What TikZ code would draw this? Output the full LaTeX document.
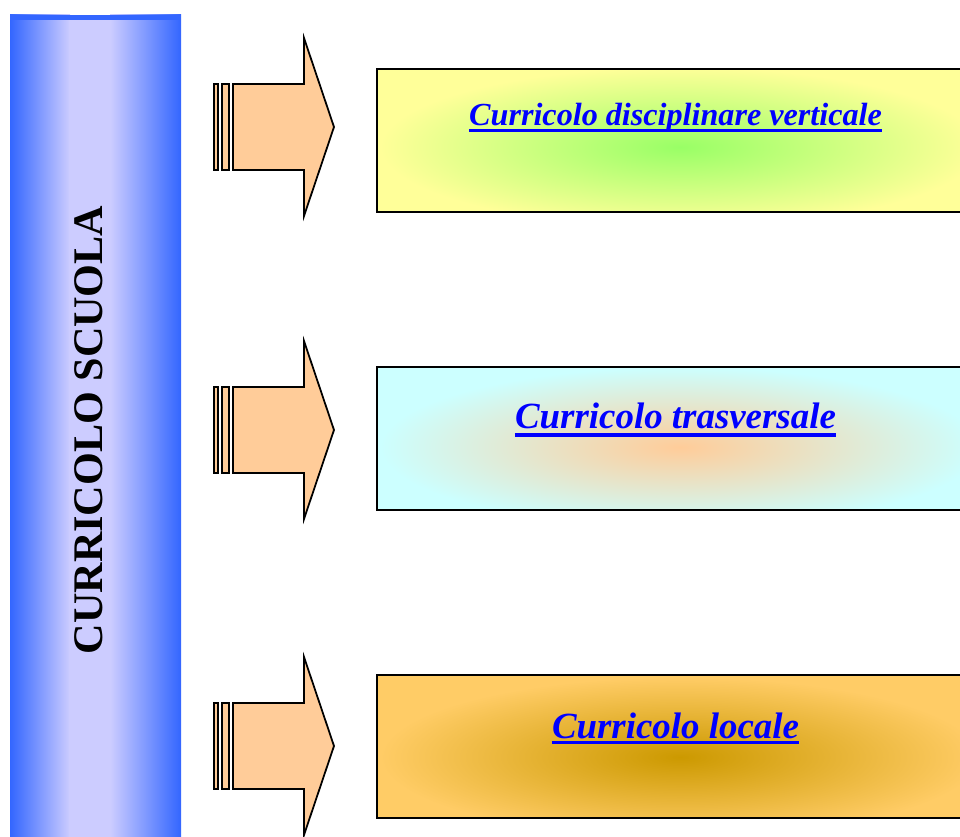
\documentclass[tikz,border=0pt]{standalone}
\usepackage{fontspec}
\setmainfont{Liberation Serif}
\usepackage{xcolor}
\usetikzlibrary{positioning,calc}

\definecolor{barblue}{HTML}{3366FF}
\definecolor{barlight}{HTML}{CCCCFF}
\definecolor{arrowfill}{HTML}{FFCC99}
\definecolor{vertout}{HTML}{FFFF99}
\definecolor{vertin}{HTML}{99FF66}
\definecolor{trasout}{HTML}{CCFFFF}
\definecolor{trasin}{HTML}{FFCC99}
\definecolor{locout}{HTML}{FFCC66}
\definecolor{locin}{HTML}{CC9900}
\definecolor{linkblue}{HTML}{0000FF}

\begin{document}
\begin{tikzpicture}[x=0.02cm,y=-0.02cm,
  cbox/.style={draw=none,minimum width=12.12cm,minimum height=2.86cm,inner sep=0pt},
  ctext/.style={anchor=base,inner sep=0pt,text=linkblue},
  uline/.style={draw=linkblue,line width=1.7pt},
  arrowbody/.style={draw=black,fill=arrowfill,line width=1pt,line join=miter}]
\useasboundingbox (0,0) rectangle (960,837);
\clip (0,0) rectangle (960,837);

% side bar
\shade[left color=barblue,right color=barlight] (10,15) rectangle (70,837);
\fill[barlight] (69,15) rectangle (111,837);
\shade[left color=barlight,right color=barblue] (110,15) rectangle (181,837);
\fill[barblue] (10,15) rectangle (181,20);
\node[rotate=90,font=\fontsize{24}{28}\selectfont\bfseries] (scuola) at (89,430) {CURRICOLO SCUOLA};

% block arrows
\foreach \yc in {127,430,746} {
  \draw[arrowbody] (233,\yc-43) -- (304,\yc-43) -- (304,\yc-89) -- (334,\yc)
    -- (304,\yc+89) -- (304,\yc+43) -- (233,\yc+43) -- cycle;
  \draw[arrowbody] (214,\yc-43) rectangle (218,\yc+43);
  \draw[arrowbody] (222,\yc-43) rectangle (229,\yc+43);
}

% boxes
\node[cbox,fill=vertout] (vert) at (680,140.5) {};
\begin{scope}
  \clip (vert.south west) rectangle (vert.north east);
  \shade[inner color=vertin,outer color=vertout] (680,147) ellipse (300 and 80);
\end{scope}
\draw[line width=1pt] (vert.south west) rectangle (vert.north east);

\node[cbox,fill=trasout] (tras) at (680,438.5) {};
\begin{scope}
  \clip (tras.south west) rectangle (tras.north east);
  \shade[inner color=trasin,outer color=trasout] (680,447) ellipse (300 and 80);
\end{scope}
\draw[line width=1pt] (tras.south west) rectangle (tras.north east);

\node[cbox,fill=locout] (loc) at (680,746.5) {};
\begin{scope}
  \clip (loc.south west) rectangle (loc.north east);
  \shade[inner color=locin,outer color=locout] (680,757) ellipse (300 and 80);
\end{scope}
\draw[line width=1pt] (loc.south west) rectangle (loc.north east);

% labels
\node[ctext,font=\fontsize{18.3}{22}\selectfont\bfseries\itshape] (vertlab) at (675.5,126) {Curricolo disciplinare verticale};
\draw[uline] ([yshift=-2.5pt]vertlab.base west) -- ([yshift=-2.5pt]vertlab.base east);
\node[ctext,font=\fontsize{21}{25}\selectfont\bfseries\itshape] (traslab) at (675.5,429) {Curricolo trasversale};
\draw[uline,line width=2.1pt] ([yshift=-3.3pt]traslab.base west) -- ([yshift=-3.3pt]traslab.base east);
\node[ctext,font=\fontsize{21}{25}\selectfont\bfseries\itshape] (loclab) at (675.5,738) {Curricolo locale};
\draw[uline] ([yshift=-2.8pt]loclab.base west) -- ([yshift=-2.8pt]loclab.base east);
\end{tikzpicture}
\end{document}
